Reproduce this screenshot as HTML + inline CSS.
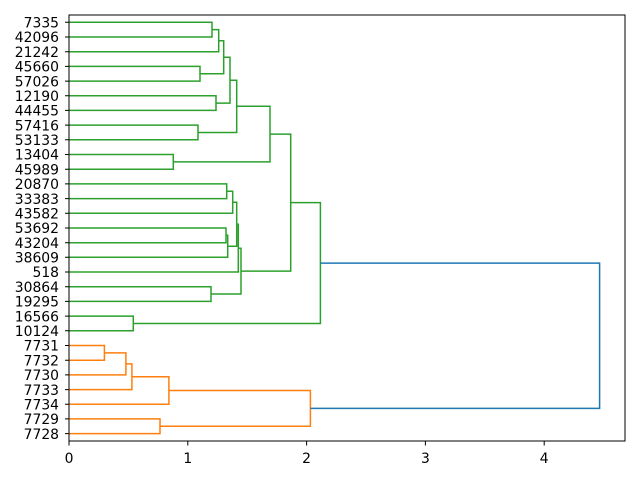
<!DOCTYPE html>
<html><head><meta charset="utf-8"><style>
html,body{margin:0;padding:0;background:#fff;}
svg{display:block;}
text{font-family:"DejaVu Sans","Liberation Sans",sans-serif;font-size:13.9px;fill:#000;}
</style></head><body>
<svg width="640" height="480" viewBox="0 0 640 480" xmlns="http://www.w3.org/2000/svg">
<rect width="640" height="480" fill="#fff"/>
<g fill="none" stroke="#2ca02c" stroke-width="1.5">
<path d="M69 22.3 H212 V37 H69"/>
<path d="M212 29.6 H218.7 V51.7 H69"/>
<path d="M69 66.4 H200 V81.1 H69"/>
<path d="M218.7 40.7 H223.7 V73.8 H200"/>
<path d="M69 95.8 H216 V110.4 H69"/>
<path d="M223.7 57.2 H230 V103.1 H216"/>
<path d="M69 125.1 H198 V139.8 H69"/>
<path d="M230 80.2 H236.7 V132.5 H198"/>
<path d="M69 154.5 H173.3 V169.2 H69"/>
<path d="M236.7 106.3 H270 V161.9 H173.3"/>
<path d="M69 183.9 H226.7 V198.6 H69"/>
<path d="M226.7 191.2 H232.7 V213.3 H69"/>
<path d="M69 228 H226 V242.7 H69"/>
<path d="M226 235.3 H227.7 V257.3 H69"/>
<path d="M232.7 202.3 H236.7 V246.3 H227.7"/>
<path d="M236.7 224.3 H238.3 V272 H69"/>
<path d="M69 286.7 H211 V301.4 H69"/>
<path d="M238.3 248.2 H241 V294 H211"/>
<path d="M270 134.1 H290.7 V271.1 H241"/>
<path d="M69 316.1 H133.3 V330.8 H69"/>
<path d="M290.7 202.6 H320.4 V323.5 H133.3"/>
</g>
<g fill="none" stroke="#ff7f0e" stroke-width="1.5">
<path d="M69 345.5 H104.4 V360.2 H69"/>
<path d="M104.4 352.9 H125.9 V374.9 H69"/>
<path d="M125.9 363.9 H131.9 V389.6 H69"/>
<path d="M131.9 376.7 H168.9 V404.2 H69"/>
<path d="M69 418.9 H160 V433.6 H69"/>
<path d="M168.9 390.5 H310.4 V426.3 H160"/>
</g>
<path d="M320.4 263.1 H599.6 V408.4 H310.4" fill="none" stroke="#1f77b4" stroke-width="1.5"/>
<rect x="69" y="15" width="556" height="426" fill="none" stroke="#000" stroke-width="1"/>
<g stroke="#000" stroke-width="1">
<path d="M69 441 V445.5 M187.8 441 V445.5 M306.6 441 V445.5 M425.4 441 V445.5 M544.2 441 V445.5"/>
<path d="M65 22.3H69M65 37H69M65 51.7H69M65 66.4H69M65 81.1H69M65 95.8H69M65 110.4H69M65 125.1H69M65 139.8H69M65 154.5H69M65 169.2H69M65 183.9H69M65 198.6H69M65 213.3H69M65 228H69M65 242.7H69M65 257.3H69M65 272H69M65 286.7H69M65 301.4H69M65 316.1H69M65 330.8H69M65 345.5H69M65 360.2H69M65 374.9H69M65 389.6H69M65 404.2H69M65 418.9H69M65 433.6H69"/>
</g>
<g text-anchor="middle">
<text x="69" y="463">0</text><text x="187.8" y="463">1</text><text x="306.6" y="463">2</text><text x="425.4" y="463">3</text><text x="544.2" y="463">4</text>
</g>
<g text-anchor="end">
<text x="59" y="27.5">7335</text>
<text x="59" y="42.2">42096</text>
<text x="59" y="56.9">21242</text>
<text x="59" y="71.6">45660</text>
<text x="59" y="86.3">57026</text>
<text x="59" y="101">12190</text>
<text x="59" y="115.6">44455</text>
<text x="59" y="130.3">57416</text>
<text x="59" y="145">53133</text>
<text x="59" y="159.7">13404</text>
<text x="59" y="174.4">45989</text>
<text x="59" y="189.1">20870</text>
<text x="59" y="203.8">33383</text>
<text x="59" y="218.5">43582</text>
<text x="59" y="233.2">53692</text>
<text x="59" y="247.9">43204</text>
<text x="59" y="262.5">38609</text>
<text x="59" y="277.2">518</text>
<text x="59" y="291.9">30864</text>
<text x="59" y="306.6">19295</text>
<text x="59" y="321.3">16566</text>
<text x="59" y="336">10124</text>
<text x="59" y="350.7">7731</text>
<text x="59" y="365.4">7732</text>
<text x="59" y="380.1">7730</text>
<text x="59" y="394.8">7733</text>
<text x="59" y="409.4">7734</text>
<text x="59" y="424.1">7729</text>
<text x="59" y="438.8">7728</text>
</g>
</svg>
</body></html>
